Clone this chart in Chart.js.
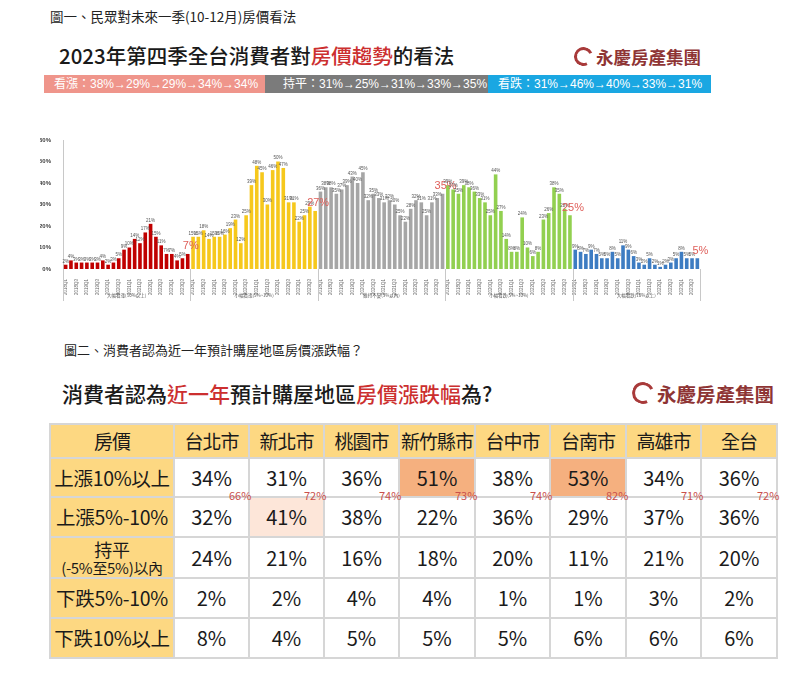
<!DOCTYPE html>
<html><head><meta charset="utf-8">
<script src="https://cdn.jsdelivr.net/npm/chart.js@4.4.0/dist/chart.umd.min.js"></script>
<style>
html,body{margin:0;padding:0;background:#fff;}
body{width:800px;height:679px;position:relative;overflow:hidden;font-family:"Noto Sans CJK TC","Noto Sans",sans-serif;color:#222;}
.abs{position:absolute;white-space:nowrap;}
.cap{font-size:13.5px;color:#222;}
.title{font-size:20.5px;color:#1a1a1a;line-height:28px;font-weight:500;}
.red{color:#cc2f2f;}
.band{position:absolute;top:75px;height:18px;line-height:18px;color:#fff;font-size:12px;white-space:nowrap;overflow:hidden;font-family:"Liberation Sans","Noto Sans CJK TC",sans-serif;}
.logo{position:absolute;display:flex;align-items:center;color:#8e3434;font-weight:bold;white-space:nowrap;}
.ring{box-sizing:border-box;border-radius:50%;border-style:solid;border-color:#a83a3a;border-right-color:transparent;transform:rotate(20deg);position:relative;margin-right:3px;}
table{position:absolute;left:49px;top:423px;border-collapse:collapse;table-layout:fixed;}
td{border:2px solid #d6d6d6;text-align:center;vertical-align:middle;font-size:20px;line-height:22px;padding:0;color:#1a1a1a;white-space:nowrap;overflow:hidden;}
td.h{background:#fdd882;}
td.hd{font-size:19px;letter-spacing:-1px;}
td.first{font-size:19.5px;letter-spacing:-0.3px;}
.sum{position:absolute;font-size:11px;color:#c9504b;line-height:12px;}
</style></head>
<body>
<div class="abs cap" style="left:50px;top:6px;">圖一、民眾對未來一季(10-12月)房價看法</div>
<div class="abs title" style="left:59px;top:41px;">2023年第四季全台消費者對<span class="red">房價趨勢</span>的看法</div>
<div class="logo" style="left:574px;top:45px;height:22px;font-size:17.5px;"><div class="ring" style="width:19px;height:19px;border-width:3px;"></div>永慶房產集團</div>

<div class="band" style="left:44px;width:221px;background:#ef958b;padding-left:10px;box-sizing:border-box;">看漲：38%→29%→29%→34%→34%</div>
<div class="band" style="left:265px;width:223px;background:#7b7b7b;padding-left:18px;box-sizing:border-box;">持平：31%→25%→31%→33%→35%</div>
<div class="band" style="left:488px;width:223px;background:#1aa7e2;padding-left:10px;box-sizing:border-box;">看跌：31%→46%→40%→33%→31%</div>

<div class="abs" style="left:40px;top:125px;width:672px;height:182px;"><canvas id="c" width="672" height="182"></canvas></div>

<div class="abs cap" style="left:64px;top:340px;font-size:13px;">圖二、消費者認為近一年預計購屋地區房價漲跌幅？</div>
<div class="abs title" style="left:62px;top:379px;font-size:21px;">消費者認為<span class="red">近一年</span>預計購屋地區<span class="red">房價漲跌幅</span>為?</div>
<div class="logo" style="left:632px;top:381px;height:24px;font-size:19.5px;"><div class="ring" style="width:22px;height:22px;border-width:3.5px;"></div>永慶房產集團</div>

<table id="tbl"></table>
<div id="sums"></div>

<script>
// ---------- Figure 1 data ----------
const quarters = ['2018Q1','2018Q2','2018Q3','2018Q4','2019Q1','2019Q2','2019Q3','2019Q4',
  '2020Q1','2020Q2','2020Q3','2020Q4','2021Q1','2021Q2','2021Q3','2021Q4',
  '2022Q1','2022Q2','2022Q3','2022Q4','2023Q1','2023Q2','2023Q3','2023Q4'];
const groupNames = ['大幅看漲(10%以上)','小幅看漲(5%~10%)','維持不變(5%以內)','小幅看跌(5%~10%)','大幅看跌(10%以上)'];
const bigRise   = [2,4,3,3,3,3,3,4,2,3,5,9,10,14,12,17,21,15,11,7,7,4,5,7];
const smallRise = [15,15,18,14,15,15,16,19,23,12,25,39,48,45,30,46,50,47,31,31,22,25,29,27];
const flat      = [36,38,38,35,37,39,43,40,45,32,35,33,31,32,30,25,22,28,32,31,25,31,33,35];
const smallFall = [39,37,35,39,38,36,33,31,25,44,27,14,8,8,24,10,6,8,23,26,38,35,28,25];
const bigFall   = [9,8,7,9,7,5,5,8,5,11,9,6,3,2,5,2,1,2,3,5,8,5,5,5];
const yTicks    = [0,10,20,30,40,50,60];
const groupColors = ['#c00000','#f6c81c','#a6a6a6','#92d050','#3d7cc2'];

// ---------- Figure 2 data ----------
const cities   = ['台北市','新北市','桃園市','新竹縣市','台中市','台南市','高雄市','全台'];
const rise10   = [34,31,36,51,38,53,34,36];
const rise5_10 = [32,41,38,22,36,29,37,36];
const flatRow  = [24,21,16,18,20,11,21,20];
const fall5_10 = [2,2,4,4,1,1,3,2];
const fall10   = [8,4,5,5,5,6,6,6];
const riseTotal= [66,72,74,73,74,82,71,72];

// ---------- Chart ----------
const series = [bigRise, smallRise, flat, smallFall, bigFall];
const N = quarters.length;
const labels = [];
series.forEach(() => quarters.forEach(q => labels.push(q)));
const datasets = series.map((s, g) => {
  const d = new Array(labels.length).fill(null);
  s.forEach((v, i) => { d[g * N + i] = v; });
  return { data: d, backgroundColor: groupColors[g], borderWidth: 0, grouped: false,
           barPercentage: 0.68, categoryPercentage: 1.0 };
});

const valueLabels = {
  id: 'valueLabels',
  afterDatasetsDraw(chart) {
    const ctx = chart.ctx;
    ctx.save();
    ctx.textAlign = 'center';
    ctx.textBaseline = 'bottom';
    chart.data.datasets.forEach((ds, di) => {
      const meta = chart.getDatasetMeta(di);
      meta.data.forEach((el, i) => {
        const v = ds.data[i];
        if (v === null || v === undefined) return;
        if (i % N === N - 1) {
          ctx.font = '11px "Liberation Sans", Arial, sans-serif';
          ctx.fillStyle = '#df5f5a';
          ctx.fillText(v + '%', el.x + 3, el.y - 2);
        } else {
          ctx.font = '4.5px "Liberation Sans", Arial, sans-serif';
          ctx.fillStyle = '#555';
          ctx.fillText(v + '%', el.x, el.y - 1);
        }
      });
    });
    ctx.restore();
  }
};

const groupDeco = {
  id: 'groupDeco',
  afterDraw(chart) {
    const ctx = chart.ctx, xs = chart.scales.x, ca = chart.chartArea;
    const step = xs.getPixelForValue(1) - xs.getPixelForValue(0);
    const lineBottom = 176;
    ctx.save();
    ctx.strokeStyle = '#c8c8c8';
    ctx.lineWidth = 1;
    const bounds = [];
    for (let g = 0; g <= series.length; g++) {
      const x = g * N < labels.length ? xs.getPixelForValue(g * N) - step / 2 : xs.getPixelForValue(labels.length - 1) + step / 2;
      bounds.push(x);
      ctx.beginPath();
      ctx.moveTo(Math.round(x) + 0.5, ca.bottom);
      ctx.lineTo(Math.round(x) + 0.5, lineBottom);
      ctx.stroke();
    }
    ctx.fillStyle = '#555';
    ctx.font = '4.5px "Noto Sans CJK TC", sans-serif';
    ctx.textAlign = 'center';
    ctx.textBaseline = 'middle';
    groupNames.forEach((n, g) => ctx.fillText(n, (bounds[g] + bounds[g + 1]) / 2, 170));
    ctx.restore();
  }
};

new Chart(document.getElementById('c'), {
  type: 'bar',
  data: { labels, datasets },
  options: {
    responsive: false,
    animation: false,
    layout: { padding: { left: 0, top: 15, right: 12, bottom: 0 } },
    plugins: { legend: { display: false }, tooltip: { enabled: false } },
    scales: {
      x: {
        grid: { display: false },
        border: { display: false },
        ticks: {
          autoSkip: false, minRotation: 90, maxRotation: 90, padding: 2,
          font: { size: 4.5, family: '"Liberation Sans", Arial, sans-serif' }, color: '#666',
          callback: function (v, i) { return i % 2 === 0 ? this.getLabelForValue(v) : ''; }
        },
        afterFit: s => { s.height = 38; }
      },
      y: {
        min: 0, max: 60,
        afterBuildTicks: s => { s.ticks = yTicks.map(v => ({ value: v })); },
        grid: { display: false },
        border: { display: true, color: '#c8c8c8', width: 1 },
        ticks: { padding: 4, color: '#404040',
                 font: { size: 6, weight: 'bold', family: '"Liberation Sans", Arial, sans-serif' },
                 callback: v => v + '%' },
        afterFit: s => { s.width = 23; }
      }
    }
  },
  plugins: [valueLabels, groupDeco]
});

// ---------- Table ----------
const rows = [
  ['上漲10%以上', rise10],
  ['上漲5%-10%', rise5_10],
  ['<div style="font-size:18px;line-height:19px;">持平</div><div style="font-size:15px;line-height:17px;">(-5%至5%)以內</div>', flatRow],
  ['下跌5%-10%', fall5_10],
  ['下跌10%以上', fall10]
];
const rowH = [34, 39, 40, 41, 40, 40];
const colW = [124, 75, 75, 75, 76, 75, 76, 75, 76];
const highlight = { '0-3': '#f5b07f', '0-5': '#f5b07f', '1-1': '#fde6d9' };
let html = '<colgroup>' + colW.map(w => `<col style="width:${w}px">`).join('') + '</colgroup>';
html += `<tr style="height:${rowH[0]}px"><td class="h hd">房價</td>` + cities.map(c => `<td class="h hd">${c}</td>`).join('') + '</tr>';
rows.forEach((r, ri) => {
  html += `<tr style="height:${rowH[ri + 1]}px"><td class="h first">${r[0]}</td>`;
  r[1].forEach((v, ci) => {
    const bg = highlight[ri + '-' + ci];
    html += `<td${bg ? ` style="background:${bg}"` : ''}>${v}%</td>`;
  });
  html += '</tr>';
});
const tbl = document.getElementById('tbl');
tbl.style.width = colW.reduce((a, b) => a + b, 0) + 'px';
tbl.innerHTML = html;

// sum labels on the line between row 1 and row 2
const sumsDiv = document.getElementById('sums');
const firstRow = tbl.rows[1];
riseTotal.forEach((v, ci) => {
  const cell = firstRow.cells[ci + 1].getBoundingClientRect();
  const d = document.createElement('div');
  d.className = 'sum';
  d.textContent = v + '%';
  d.style.left = (cell.right - 20) + 'px';
  d.style.top = (cell.bottom - 8) + 'px';
  sumsDiv.appendChild(d);
});
</script>
</body></html>
